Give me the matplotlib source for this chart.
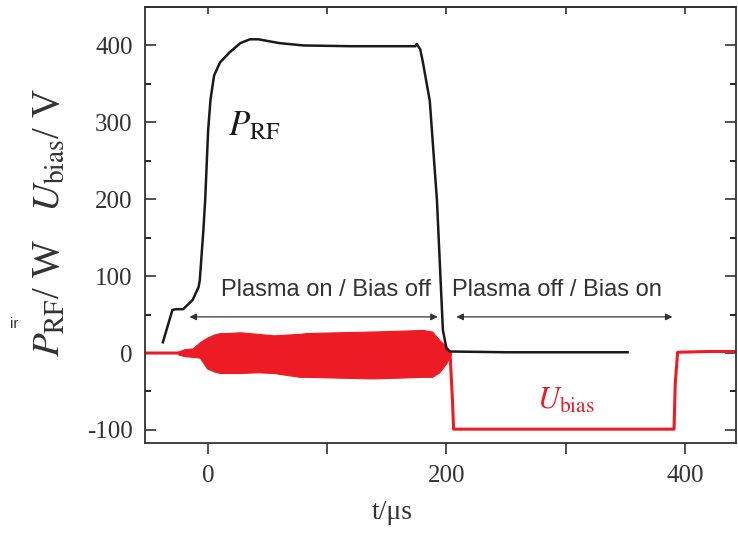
import numpy as np
import matplotlib.pyplot as plt
from matplotlib.ticker import MultipleLocator

plt.rcParams['mathtext.fontset'] = 'stix'
plt.rcParams['axes.unicode_minus'] = False

# P_RF trace (black)
t_rf = [-38, -30, -27, -21, -13, -8, -7, -4, -2.5, 0, 2, 5, 10, 18, 27, 35, 42, 60,
        80, 120, 174, 175, 178, 180, 186, 192, 197, 200, 203, 250, 300, 352]
p_rf = [14, 56, 57, 57, 69, 86, 95, 160, 199, 290, 330, 361, 378, 391, 403, 408, 408, 403,
        400, 399, 399, 402, 395, 380, 328, 199, 30, 6, 2, 1, 1, 1]

# U_bias trace (red), outside the oscillating part
t_bias = [-53, -25, 203, 205, 206, 300, 391, 392, 394, 420, 443]
u_bias = [0, 0, 0, -60, -99, -99, -99, -40, 1, 2, 2]

# envelope of the RF oscillation on U_bias
t_env = [-25, -20, -13, -7, -1, 5, 10, 16, 27, 41, 55, 77, 83, 110, 138, 160, 180, 188, 194, 200, 204]
env_hi = [2, 5, 6, 14, 20, 24, 26, 26, 27, 25, 23, 25, 26, 27, 28, 29, 30, 28, 17, 8, 0]
env_lo = [-2, -4, -5, -6, -20, -24, -26, -26, -26, -25, -26, -31, -31, -32, -33, -32, -31, -31, -25, -13, 0]

red = '#ed1c24'
grey = '#333333'
serif = ['Liberation Serif', 'DejaVu Serif']
sans = ['Liberation Sans', 'DejaVu Sans']

fig = plt.figure(figsize=(7.38, 5.33), dpi=100)
ax = fig.add_axes([145 / 738, 1 - 443 / 533, (736 - 145) / 738, (443 - 7) / 533])

ax.fill_between(t_env, env_lo, env_hi, color=red, lw=0.8, zorder=2)
ax.plot(t_bias, u_bias, color=red, lw=2.2, zorder=2)
ax.plot(t_rf, p_rf, color='#1a1a1a', lw=1.8, zorder=3)

ax.set_xlim(-53, 443)
ax.set_ylim(-117, 450)

ax.xaxis.set_major_locator(MultipleLocator(200))
ax.xaxis.set_minor_locator(MultipleLocator(100))
ax.yaxis.set_major_locator(MultipleLocator(100))
ax.yaxis.set_minor_locator(MultipleLocator(50))
ax.tick_params(axis='x', which='both', direction='out', length=8, width=1.2,
               top=False, labelsize=18, colors=grey, pad=8)
ax.tick_params(axis='y', which='major', direction='in', length=8, width=1.2,
               right=True, labelsize=18, colors=grey, pad=9)
ax.tick_params(axis='y', which='minor', direction='in', length=4, width=1.2, right=True)
for lab in ax.get_xticklabels() + ax.get_yticklabels():
    lab.set_family(serif)

top = ax.secondary_xaxis('top')
top.xaxis.set_major_locator(MultipleLocator(100))
top.tick_params(direction='in', length=5, width=1.2, labeltop=False, colors=grey)

for s in list(ax.spines.values()) + list(top.spines.values()):
    s.set_linewidth(1.3)
    s.set_color(grey)

ax.set_xlabel('t/\u03bcs', fontsize=20, family=serif, color=grey)
ax.xaxis.set_label_coords(0.418, -0.13)
fig.text(0.068, 0.583, r'$P_{\mathrm{RF}}$/ W   $U_{\mathrm{bias}}$/ V', rotation=90,
         ha='center', va='center', fontsize=28, color=grey, family=serif)
fig.text(0.013, 0.385, 'ir', fontsize=11, family=sans, color=grey)

ax.annotate('', xy=(-18, 47), xytext=(195, 47),
            arrowprops=dict(arrowstyle='<|-|>', color=grey, lw=0.9, mutation_scale=10))
ax.annotate('', xy=(206, 47), xytext=(392, 47),
            arrowprops=dict(arrowstyle='<|-|>', color=grey, lw=0.9, mutation_scale=10))
ax.text(99, 82, 'Plasma on / Bias off', ha='center', va='center', fontsize=17,
        family=sans, color=grey)
ax.text(293, 82, 'Plasma off / Bias on', ha='center', va='center', fontsize=17,
        family=sans, color=grey)

ax.text(17, 296, r'$P_{\mathrm{RF}}$', fontsize=25, color='#1a1a1a', ha='left', va='center')
ax.text(276, -61, r'$U_{\mathrm{bias}}$', fontsize=22, color=red, ha='left', va='center')

fig.savefig('out.png', dpi=100)
